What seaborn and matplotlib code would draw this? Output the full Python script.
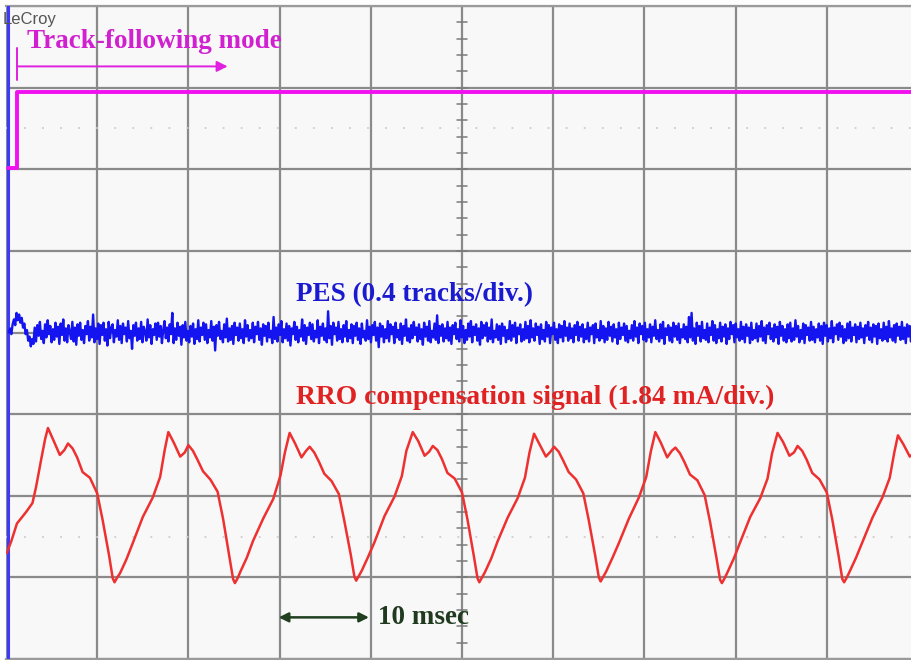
import numpy as np
import pandas as pd
import seaborn as sns
from matplotlib import pyplot as plt

# time in msec (10 msec/div), amplitude in screen divisions (8 div high)
magenta_t = [0.2, 1.2, 1.2, 99.8]
magenta_v = [2.02, 2.02, 2.95, 2.95]

pes_edge_t = 0.2
pes_start_t = 0.3
pes_end_t = 99.8
pes_v = [
    0.00, 0.05, -0.02, 0.10, 0.16, 0.09, 0.24, 0.15, 0.22, 0.12, 0.18, 0.06, 0.11, -0.02, 0.03, -0.10, -0.05, -0.17, -0.08, -0.14,
    0.06, -0.11, 0.09, -0.04, 0.13, -0.08, 0.02, -0.13, 0.10, -0.06, 0.15, -0.02, 0.08, -0.12, 0.04, -0.09, 0.12, -0.05, 0.07, -0.14,
    0.11, -0.03, 0.16, -0.10, 0.05, -0.12, 0.09, 0.01, -0.08, 0.13, -0.11, 0.06, -0.15, 0.10, -0.04, 0.12, -0.09, 0.03, -0.13, 0.08,
    -0.02, 0.14, -0.10, 0.07, -0.06, 0.22, -0.12, 0.05, -0.08, 0.11, -0.14, 0.09, -0.03, 0.12, -0.10, 0.04, -0.16, 0.13, -0.07, 0.06,
    0.10, -0.12, 0.03, -0.05, 0.15, -0.09, 0.08, -0.13, 0.11, -0.02, 0.06, -0.11, 0.14, -0.07, 0.02, -0.20, 0.09, -0.04, 0.12, -0.10,
    0.05, -0.08, 0.13, -0.12, 0.07, 0.01, -0.10, 0.16, -0.06, 0.09, -0.14, 0.04, -0.03, 0.11, -0.09, 0.12, -0.05, 0.08, -0.13, 0.03,
    0.14, -0.07, 0.06, -0.11, 0.10, -0.02, 0.24, -0.13, 0.05, -0.09, 0.12, -0.04, 0.07, -0.15, 0.09, -0.06, 0.13, -0.10, 0.02, -0.12,
    0.08, -0.05, 0.11, -0.14, 0.04, -0.08, 0.15, -0.11, 0.06, -0.03, 0.12, -0.09, 0.10, -0.13, 0.03, -0.06, 0.14, -0.10, 0.07, -0.22,
    0.09, -0.04, 0.13, -0.08, 0.02, -0.12, 0.10, -0.06, 0.17, -0.11, 0.05, -0.09, 0.08, -0.14, 0.12, -0.03, 0.06, -0.10, 0.11, -0.07,
    0.04, -0.13, 0.15, -0.05, 0.09, -0.10, 0.03, -0.07, 0.12, -0.12, 0.07, -0.02, 0.13, -0.09, 0.05, -0.15, 0.10, -0.04, 0.08, -0.11,
    0.12, -0.06, 0.02, -0.13, 0.19, -0.08, 0.06, -0.11, 0.10, -0.03, 0.14, -0.12, 0.04, -0.07, 0.11, -0.10, 0.08, -0.16, 0.05, -0.02,
    0.13, -0.09, 0.07, -0.12, 0.03, -0.05, 0.16, -0.10, 0.09, -0.14, 0.06, -0.03, 0.12, -0.08, 0.10, -0.11, 0.02, -0.06, 0.15, -0.13,
    0.07, -0.04, 0.11, -0.09, 0.05, -0.12, 0.26, -0.07, 0.08, -0.15, 0.12, -0.02, 0.06, -0.10, 0.13, -0.08, 0.04, -0.12, 0.09, -0.05,
    0.14, -0.11, 0.03, -0.07, 0.10, -0.13, 0.08, -0.04, 0.12, -0.09, 0.05, -0.14, 0.11, -0.06, 0.02, -0.10, 0.15, -0.08, 0.07, -0.12,
    0.09, -0.03, 0.13, -0.10, 0.06, -0.18, 0.11, -0.05, 0.08, -0.12, 0.04, -0.07, 0.14, -0.11, 0.10, -0.02, 0.07, -0.13, 0.12, -0.06,
    0.03, -0.09, 0.11, -0.14, 0.08, -0.04, 0.16, -0.10, 0.05, -0.12, 0.09, -0.07, 0.13, -0.03, 0.06, -0.11, 0.10, -0.08, 0.04, -0.15,
    0.12, -0.05, 0.07, -0.10, 0.14, -0.12, 0.02, -0.06, 0.11, -0.09, 0.21, -0.13, 0.08, -0.04, 0.10, -0.11, 0.05, -0.07, 0.13, -0.10,
    0.06, -0.14, 0.09, -0.02, 0.12, -0.08, 0.04, -0.11, 0.15, -0.06, 0.08, -0.13, 0.03, -0.09, 0.11, -0.05, 0.14, -0.12, 0.07, -0.03,
    0.10, -0.10, 0.05, -0.15, 0.13, -0.07, 0.09, -0.04, 0.12, -0.11, 0.06, -0.08, 0.16, -0.12, 0.02, -0.06, 0.10, -0.09, 0.08, -0.14,
    0.11, -0.04, 0.07, -0.12, 0.03, -0.08, 0.14, -0.10, 0.09, -0.05, 0.12, -0.13, 0.06, -0.02, 0.10, -0.11, 0.04, -0.09, 0.13, -0.07,
    0.08, -0.12, 0.15, -0.06, 0.05, -0.10, 0.11, -0.03, 0.07, -0.14, 0.10, -0.08, 0.03, -0.11, 0.13, -0.05, 0.09, -0.13, 0.06, -0.02,
    0.12, -0.09, 0.04, -0.13, 0.10, -0.06, 0.08, -0.11, 0.14, -0.04, 0.06, -0.10, 0.11, -0.07, 0.05, -0.12, 0.09, -0.03, 0.13, -0.10,
    0.07, -0.05, 0.10, -0.12, 0.04, -0.08, 0.12, -0.11, 0.06, -0.02, 0.09, -0.13, 0.11, -0.06, 0.03, -0.10, 0.14, -0.07, 0.08, -0.12,
    0.05, -0.09, 0.13, -0.04, 0.07, -0.11, 0.10, -0.06, 0.04, -0.14, 0.12, -0.08, 0.06, -0.03, 0.11, -0.10, 0.08, -0.12, 0.02, -0.07,
    0.09, -0.10, 0.14, -0.05, 0.06, -0.13, 0.11, -0.02, 0.08, -0.09, 0.12, -0.11, 0.04, -0.06, 0.10, -0.12, 0.07, -0.04, 0.15, -0.08,
    0.03, -0.11, 0.10, -0.07, 0.13, -0.14, 0.05, -0.03, 0.09, -0.10, 0.06, -0.12, 0.12, -0.05, 0.08, -0.09, 0.11, -0.13, 0.04, -0.06,
    0.10, -0.08, 0.07, -0.12, 0.19, -0.06, 0.24, -0.10, 0.05, -0.14, 0.12, -0.04, 0.08, -0.11, 0.13, -0.07, 0.03, -0.09, 0.11, -0.12,
    0.06, -0.03, 0.14, -0.10, 0.09, -0.13, 0.04, -0.07, 0.12, -0.11, 0.07, -0.05, 0.10, -0.14, 0.05, -0.08, 0.13, -0.02, 0.09, -0.12,
    0.11, -0.06, 0.04, -0.10, 0.13, -0.08, 0.07, -0.12, 0.10, -0.04, 0.06, -0.13, 0.12, -0.09, 0.03, -0.07, 0.11, -0.11, 0.08, -0.05,
    0.14, -0.10, 0.06, -0.13, 0.09, -0.02, 0.12, -0.08, 0.05, -0.11, 0.10, -0.06, 0.07, -0.14, 0.13, -0.04, 0.08, -0.10, 0.04, -0.12,
    0.10, -0.07, 0.12, -0.11, 0.05, -0.09, 0.15, -0.05, 0.08, -0.12, 0.03, -0.08, 0.11, -0.13, 0.09, -0.03, 0.06, -0.10, 0.13, -0.09,
    0.07, -0.12, 0.04, -0.06, 0.11, -0.10, 0.08, -0.14, 0.12, -0.04, 0.09, -0.11, 0.05, -0.07, 0.14, -0.12, 0.06, -0.02, 0.10, -0.09,
    0.12, -0.05, 0.08, -0.13, 0.04, -0.10, 0.11, -0.07, 0.13, -0.11, 0.06, -0.03, 0.10, -0.12, 0.07, -0.08, 0.12, -0.06, 0.05, -0.13,
    0.09, -0.04, 0.13, -0.09, 0.06, -0.12, 0.10, -0.05, 0.08, -0.14, 0.11, -0.07, 0.04, -0.10, 0.12, -0.08, 0.07, -0.11, 0.14, -0.06,
    0.05, -0.10, 0.09, -0.12, 0.11, -0.04, 0.07, -0.09, 0.13, -0.08, 0.06, -0.13, 0.10, -0.05, 0.08, -0.11, 0.12, -0.07, 0.04, -0.10,
]

rro_t = [
    0.1, 0.6, 1.2, 2.2, 2.9, 3.3, 3.9, 4.3,
    4.6, 5.2, 5.9, 6.4, 6.8, 7.3, 7.8, 8.4, 9.2, 10.0, 10.6, 11.3, 11.7, 11.9, 12.2, 12.5, 13.2, 13.9, 15.0, 16.1, 16.9, 17.4,
    17.8, 18.4, 19.1, 19.6, 20.0, 20.5, 21.0, 21.6, 22.4, 23.2, 23.8, 24.5, 24.9, 25.1, 25.4, 25.7, 26.4, 27.1, 28.2, 29.3, 30.1, 30.6,
    31.1, 31.7, 32.4, 32.9, 33.3, 33.8, 34.3, 34.9, 35.7, 36.5, 37.1, 37.8, 38.2, 38.4, 38.7, 39.0, 39.7, 40.4, 41.5, 42.6, 43.4, 43.9,
    44.6, 45.2, 45.9, 46.4, 46.8, 47.3, 47.8, 48.4, 49.2, 50.0, 50.6, 51.3, 51.7, 51.9, 52.2, 52.5, 53.2, 53.9, 55.0, 56.1, 56.9, 57.4,
    57.9, 58.5, 59.2, 59.7, 60.1, 60.6, 61.1, 61.7, 62.5, 63.3, 63.9, 64.6, 65.0, 65.2, 65.5, 65.8, 66.5, 67.2, 68.3, 69.4, 70.2, 70.7,
    71.2, 71.8, 72.5, 73.0, 73.4, 73.9, 74.4, 75.0, 75.8, 76.6, 77.2, 77.9, 78.3, 78.5, 78.8, 79.1, 79.8, 80.5, 81.6, 82.7, 83.5, 84.0,
    84.6, 85.2, 85.9, 86.4, 86.8, 87.3, 87.8, 88.4, 89.2, 90.0, 90.6, 91.3, 91.7, 91.9, 92.2, 92.5, 93.2, 93.9, 95.0, 96.1, 96.9, 97.4,
    97.8, 98.4, 99.1, 99.6,
]
rro_v = [
    -2.70, -2.55, -2.34, -2.20, -2.09, -1.89, -1.53, -1.30,
    -1.17, -1.32, -1.50, -1.44, -1.36, -1.42, -1.53, -1.71, -1.78, -1.97, -2.30, -2.73, -3.01, -3.06, -3.00, -2.95, -2.78, -2.58, -2.26, -2.02, -1.77, -1.44,
    -1.22, -1.35, -1.52, -1.47, -1.38, -1.45, -1.56, -1.70, -1.80, -1.95, -2.28, -2.75, -3.02, -3.07, -3.01, -2.93, -2.76, -2.55, -2.28, -2.04, -1.75, -1.46,
    -1.23, -1.36, -1.53, -1.45, -1.40, -1.47, -1.58, -1.73, -1.82, -1.98, -2.31, -2.72, -2.99, -3.04, -2.98, -2.92, -2.75, -2.57, -2.25, -2.01, -1.76, -1.45,
    -1.22, -1.33, -1.51, -1.46, -1.39, -1.44, -1.55, -1.72, -1.79, -1.96, -2.29, -2.74, -3.01, -3.06, -3.00, -2.94, -2.77, -2.56, -2.27, -2.03, -1.78, -1.47,
    -1.24, -1.37, -1.52, -1.46, -1.40, -1.46, -1.57, -1.71, -1.80, -1.97, -2.30, -2.73, -3.00, -3.05, -2.99, -2.93, -2.76, -2.58, -2.28, -2.02, -1.77, -1.46,
    -1.22, -1.35, -1.53, -1.45, -1.41, -1.48, -1.59, -1.74, -1.81, -1.99, -2.32, -2.76, -3.03, -3.07, -3.01, -2.94, -2.77, -2.57, -2.26, -2.03, -1.79, -1.48,
    -1.23, -1.34, -1.51, -1.47, -1.39, -1.45, -1.56, -1.72, -1.80, -1.96, -2.29, -2.74, -3.02, -3.06, -3.00, -2.93, -2.76, -2.57, -2.27, -2.02, -1.78, -1.47,
    -1.26, -1.37, -1.52, -1.47,
]

# annotation anchors (msec, div)
mode_arrow_t = [1.2, 24.3]
mode_arrow_v = 3.26
scale_arrow_t = [29.9, 39.8]
scale_arrow_v = -3.49

sns.set_theme(style="white")
plt.rcParams["font.family"] = ["Liberation Serif", "DejaVu Serif"]

fig = plt.figure(figsize=(9.12, 6.6), dpi=100, facecolor="#fdfdfd")
ax = fig.add_axes([6 / 912, 1 / 660, 912 / 912, 653 / 660])
ax.set_facecolor("#f8f8f8")
ax.set_xlim(0, 100)
ax.set_ylim(-4, 4)

# graticule
ax.set_xticks(np.arange(0, 101, 10))
ax.set_yticks(np.arange(-4, 5, 1))
ax.grid(True, color="#8a8a8a", lw=1.6)
ax.tick_params(length=0, labelbottom=False, labelleft=False)
for s in ax.spines.values():
    s.set_color("#9a9a9a")
    s.set_linewidth(1.6)
ax.spines["left"].set_visible(False)

# minor ticks on the centre vertical axis
for yv in np.arange(-4, 4.01, 0.2):
    ax.plot([49.45, 50.55], [yv, yv], color="#7a7a7a", lw=1.1, zorder=1)

# faint reference dotted lines
for yv in [2.5, -2.5]:
    ax.axhline(yv, color="#d8c8c8", lw=1.3, ls=(0, (1, 9)), zorder=1)

pes_df = pd.DataFrame({"t": np.linspace(pes_start_t, pes_end_t, len(pes_v)), "v": pes_v})
rro_df = pd.DataFrame({"t": rro_t, "v": rro_v})
mag_df = pd.DataFrame({"t": magenta_t, "v": magenta_v})

ax.axvline(pes_edge_t, color="#3a3aff", lw=2.2, zorder=3)
sns.lineplot(data=pes_df, x="t", y="v", ax=ax, color="#1414f0", lw=1.7,
             estimator=None, sort=False, zorder=4)
sns.lineplot(data=rro_df, x="t", y="v", ax=ax, color="#ee3030", lw=1.8,
             estimator=None, sort=False, zorder=4)
sns.lineplot(data=mag_df, x="t", y="v", ax=ax, color="#f010f0", lw=2.8,
             estimator=None, sort=False, zorder=4)
ax.set_xlabel("")
ax.set_ylabel("")

# annotations
ax.plot([mode_arrow_t[0]] * 2, [mode_arrow_v - 0.17, mode_arrow_v + 0.22], color="#e020e0", lw=1.4)
ax.annotate("", xy=(mode_arrow_t[1], mode_arrow_v), xytext=(mode_arrow_t[0], mode_arrow_v),
            arrowprops=dict(arrowstyle="-|>", color="#e020e0", lw=1.4, mutation_scale=16,
                            shrinkA=0, shrinkB=0))
ax.text(2.3, 3.57, "Track-following mode", color="#d020d0", fontsize=19.5, fontweight="bold",
        va="center", ha="left")
ax.text(31.8, 0.46, "PES (0.4 tracks/div.)", color="#1a1ad0", fontsize=19.5, fontweight="bold",
        va="center", ha="left")
ax.text(31.8, -0.79, "RRO compensation signal (1.84 mA/div.)", color="#e02222", fontsize=19.8,
        fontweight="bold", va="center", ha="left")
ax.annotate("", xy=(scale_arrow_t[1], scale_arrow_v), xytext=(scale_arrow_t[0], scale_arrow_v),
            arrowprops=dict(arrowstyle="<|-|>", color="#1f3f1f", lw=1.8, mutation_scale=14,
                            shrinkA=0, shrinkB=0))
ax.text(40.8, -3.49, "10 msec", color="#1f3a1f", fontsize=19.5, fontweight="bold",
        va="center", ha="left")
ax.text(-0.4, 3.84, "LeCroy", color="#555555", fontsize=12, family="Liberation Sans",
        va="center", ha="left", clip_on=False)

plt.savefig("out.png", dpi=100, facecolor=fig.get_facecolor())
plt.close()
